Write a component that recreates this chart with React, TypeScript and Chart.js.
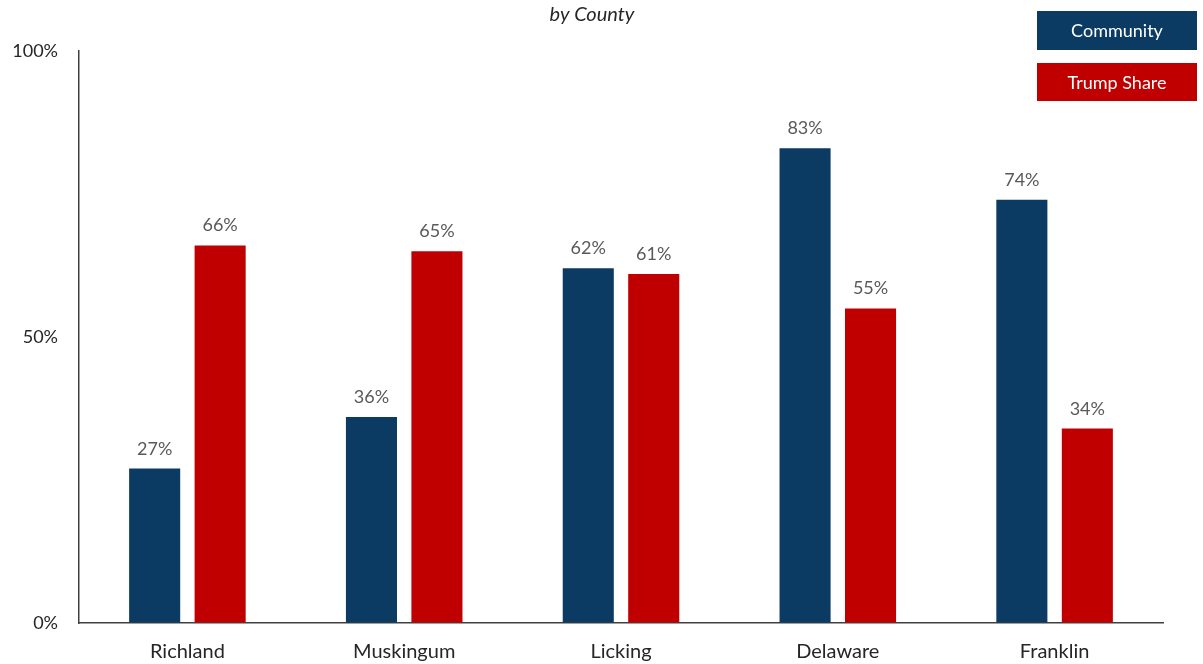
import React, { useEffect, useRef } from "react";
import { Chart, registerables } from "chart.js";

Chart.register(...registerables);

const counties = ["Richland", "Muskingum", "Licking", "Delaware", "Franklin"];
const communityShare = [27, 36, 62, 83, 74];
const trumpShare = [66, 65, 61, 55, 34];
const yTicks = [0, 50, 100];

const BLUE = "#0B3A63";
const RED = "#C00000";
const FONT = "Lato, 'Open Sans', sans-serif";

// Percent labels above each bar
const valueLabels = {
  id: "valueLabels",
  afterDatasetsDraw(chart: any) {
    const { ctx } = chart;
    ctx.save();
    ctx.font = `18px ${FONT}`;
    ctx.fillStyle = "#595959";
    ctx.textAlign = "center";
    ctx.textBaseline = "alphabetic";
    chart.data.datasets.forEach((ds: any, i: number) => {
      chart.getDatasetMeta(i).data.forEach((bar: any, j: number) => {
        ctx.fillText(`${ds.data[j]}%`, bar.x, bar.y - 14);
      });
    });
    ctx.restore();
  },
};

// Subtitle and boxed legend entries
const decorations = {
  id: "decorations",
  afterDraw(chart: any) {
    const { ctx } = chart;
    ctx.save();
    ctx.font = `italic 20px ${FONT}`;
    ctx.fillStyle = "#262626";
    ctx.textAlign = "center";
    ctx.textBaseline = "middle";
    ctx.fillText("by County", 592, 15);

    const entries = chart.data.datasets.map((ds: any) => ({
      label: ds.label,
      color: ds.backgroundColor,
    }));
    const boxes = [
      { x: 1037, y: 11, w: 160, h: 39 },
      { x: 1037, y: 63, w: 160, h: 38 },
    ];
    ctx.font = `18px ${FONT}`;
    entries.forEach((e: any, i: number) => {
      const b = boxes[i];
      ctx.fillStyle = e.color;
      ctx.fillRect(b.x, b.y, b.w, b.h);
      ctx.fillStyle = "#FFFFFF";
      ctx.fillText(e.label, b.x + b.w / 2, b.y + b.h / 2 + 1);
    });
    ctx.restore();
  },
};

export default function App() {
  const canvasRef = useRef<HTMLCanvasElement | null>(null);

  useEffect(() => {
    document.body.style.margin = "0";
    const canvas = canvasRef.current;
    if (!canvas) return;
    const chart = new Chart(canvas, {
      type: "bar",
      data: {
        labels: counties,
        datasets: [
          {
            label: "Community",
            data: communityShare,
            backgroundColor: BLUE,
            categoryPercentage: 0.604,
            barPercentage: 0.78,
          },
          {
            label: "Trump Share",
            data: trumpShare,
            backgroundColor: RED,
            categoryPercentage: 0.604,
            barPercentage: 0.78,
          },
        ],
      },
      options: {
        animation: false,
        responsive: false,
        maintainAspectRatio: false,
        layout: { padding: { top: 51, right: 40, left: 0, bottom: 0 } },
        plugins: {
          legend: { display: false },
          title: { display: false },
          tooltip: { enabled: false },
        },
        scales: {
          x: {
            grid: { color: "transparent", drawTicks: false },
            border: { display: true, color: "#404040", width: 1.5 },
            ticks: {
              color: "#262626",
              font: { family: FONT, size: 20 },
              padding: 17,
              maxRotation: 0,
            },
            afterFit(scale: any) {
              scale.height = 41;
            },
          },
          y: {
            min: 0,
            max: 100,
            afterBuildTicks(scale: any) {
              scale.ticks = yTicks.map((v) => ({ value: v }));
            },
            grid: { color: "transparent", drawTicks: false },
            border: { display: true, color: "#404040", width: 1.5 },
            ticks: {
              color: "#262626",
              font: { family: FONT, size: 18 },
              padding: 21,
              callback: (v: any) => `${v}%`,
            },
            afterFit(scale: any) {
              scale.width = 79;
            },
          },
        },
      },
      plugins: [valueLabels, decorations],
    });
    return () => chart.destroy();
  }, []);

  return (
    <div style={{ width: 1203, height: 664, background: "#FFFFFF" }}>
      <canvas ref={canvasRef} width={1203} height={664} style={{ display: "block" }} />
    </div>
  );
}
